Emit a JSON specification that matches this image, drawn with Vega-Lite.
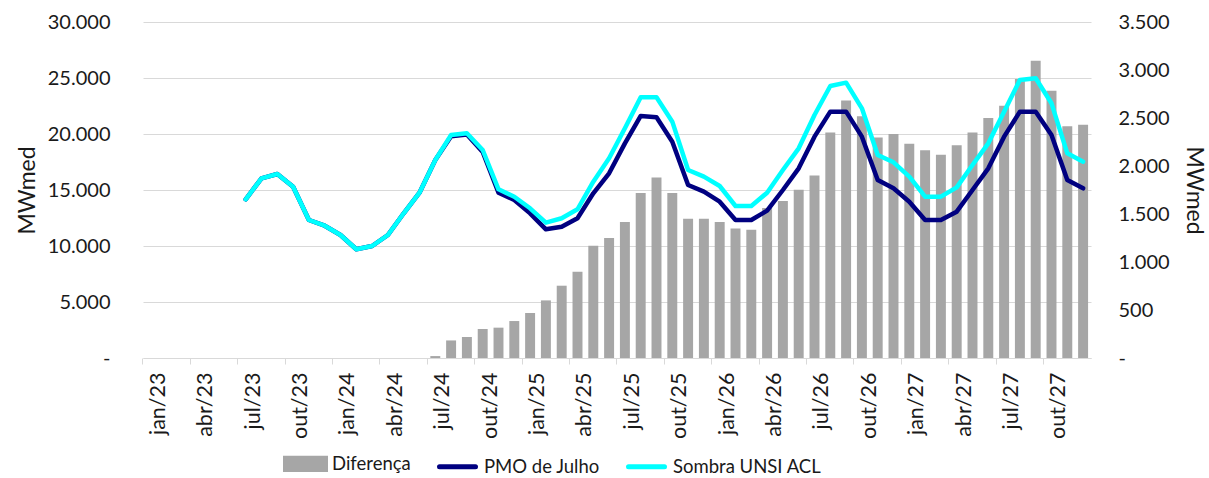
{
  "$schema": "https://vega.github.io/schema/vega-lite/v6.json",
  "width": 948,
  "height": 336,
  "autosize": {"type": "none"},
  "padding": {"left": 143, "top": 22, "right": 118, "bottom": 120},
  "background": "white",
  "config": {
    "view": {"stroke": null},
    "font": "Lato",
    "axis": {"labelFont": "Lato", "titleFont": "Lato", "labelColor": "#1a1a1a", "titleColor": "#1a1a1a", "labelFontSize": 20, "titleFontSize": 23, "titleFontWeight": "normal"}
  },
  "datasets": {
    "barras": [
      {"mes": "jul/24", "dif": 20}, {"mes": "ago/24", "dif": 183}, {"mes": "set/24", "dif": 219}, {"mes": "out/24", "dif": 302},
      {"mes": "nov/24", "dif": 316}, {"mes": "dez/24", "dif": 385}, {"mes": "jan/25", "dif": 469}, {"mes": "fev/25", "dif": 600},
      {"mes": "mar/25", "dif": 753}, {"mes": "abr/25", "dif": 899}, {"mes": "mai/25", "dif": 1170}, {"mes": "jun/25", "dif": 1250},
      {"mes": "jul/25", "dif": 1417}, {"mes": "ago/25", "dif": 1719}, {"mes": "set/25", "dif": 1881}, {"mes": "out/25", "dif": 1719},
      {"mes": "nov/25", "dif": 1451}, {"mes": "dez/25", "dif": 1451}, {"mes": "jan/26", "dif": 1417}, {"mes": "fev/26", "dif": 1350},
      {"mes": "mar/26", "dif": 1337}, {"mes": "abr/26", "dif": 1563}, {"mes": "mai/26", "dif": 1635}, {"mes": "jun/26", "dif": 1753},
      {"mes": "jul/26", "dif": 1902}, {"mes": "ago/26", "dif": 2350}, {"mes": "set/26", "dif": 2683}, {"mes": "out/26", "dif": 2517},
      {"mes": "nov/26", "dif": 2298}, {"mes": "dez/26", "dif": 2333}, {"mes": "jan/27", "dif": 2232}, {"mes": "fev/27", "dif": 2163},
      {"mes": "mar/27", "dif": 2118}, {"mes": "abr/27", "dif": 2215}, {"mes": "mai/27", "dif": 2350}, {"mes": "jun/27", "dif": 2500},
      {"mes": "jul/27", "dif": 2628}, {"mes": "ago/27", "dif": 2906}, {"mes": "set/27", "dif": 3097}, {"mes": "out/27", "dif": 2785},
      {"mes": "nov/27", "dif": 2413}, {"mes": "dez/27", "dif": 2430}
    ],
    "linhas": [
      {"mes": "jul/23", "serie": "PMO de Julho", "valor": 14170}, {"mes": "ago/23", "serie": "PMO de Julho", "valor": 16045},
      {"mes": "set/23", "serie": "PMO de Julho", "valor": 16429}, {"mes": "out/23", "serie": "PMO de Julho", "valor": 15296},
      {"mes": "nov/23", "serie": "PMO de Julho", "valor": 12322}, {"mes": "dez/23", "serie": "PMO de Julho", "valor": 11813},
      {"mes": "jan/24", "serie": "PMO de Julho", "valor": 10983}, {"mes": "fev/24", "serie": "PMO de Julho", "valor": 9706},
      {"mes": "mar/24", "serie": "PMO de Julho", "valor": 10000}, {"mes": "abr/24", "serie": "PMO de Julho", "valor": 10983},
      {"mes": "mai/24", "serie": "PMO de Julho", "valor": 12920}, {"mes": "jun/24", "serie": "PMO de Julho", "valor": 14760},
      {"mes": "jul/24", "serie": "PMO de Julho", "valor": 17679}, {"mes": "ago/24", "serie": "PMO de Julho", "valor": 19800},
      {"mes": "set/24", "serie": "PMO de Julho", "valor": 19950}, {"mes": "out/24", "serie": "PMO de Julho", "valor": 18400},
      {"mes": "nov/24", "serie": "PMO de Julho", "valor": 14760}, {"mes": "dez/24", "serie": "PMO de Julho", "valor": 14107},
      {"mes": "jan/25", "serie": "PMO de Julho", "valor": 12920}, {"mes": "fev/25", "serie": "PMO de Julho", "valor": 11491},
      {"mes": "mar/25", "serie": "PMO de Julho", "valor": 11724}, {"mes": "abr/25", "serie": "PMO de Julho", "valor": 12474},
      {"mes": "mai/25", "serie": "PMO de Julho", "valor": 14706}, {"mes": "jun/25", "serie": "PMO de Julho", "valor": 16491},
      {"mes": "jul/25", "serie": "PMO de Julho", "valor": 19167}, {"mes": "ago/25", "serie": "PMO de Julho", "valor": 21608},
      {"mes": "set/25", "serie": "PMO de Julho", "valor": 21489}, {"mes": "out/25", "serie": "PMO de Julho", "valor": 19316},
      {"mes": "nov/25", "serie": "PMO de Julho", "valor": 15447}, {"mes": "dez/25", "serie": "PMO de Julho", "valor": 14851},
      {"mes": "jan/26", "serie": "PMO de Julho", "valor": 13959}, {"mes": "fev/26", "serie": "PMO de Julho", "valor": 12322},
      {"mes": "mar/26", "serie": "PMO de Julho", "valor": 12322}, {"mes": "abr/26", "serie": "PMO de Julho", "valor": 13155},
      {"mes": "mai/26", "serie": "PMO de Julho", "valor": 15000}, {"mes": "jun/26", "serie": "PMO de Julho", "valor": 16935},
      {"mes": "jul/26", "serie": "PMO de Julho", "valor": 19762}, {"mes": "ago/26", "serie": "PMO de Julho", "valor": 21994},
      {"mes": "set/26", "serie": "PMO de Julho", "valor": 21994}, {"mes": "out/26", "serie": "PMO de Julho", "valor": 19762},
      {"mes": "nov/26", "serie": "PMO de Julho", "valor": 15894}, {"mes": "dez/26", "serie": "PMO de Julho", "valor": 15149},
      {"mes": "jan/27", "serie": "PMO de Julho", "valor": 13959}, {"mes": "fev/27", "serie": "PMO de Julho", "valor": 12322},
      {"mes": "mar/27", "serie": "PMO de Julho", "valor": 12322}, {"mes": "abr/27", "serie": "PMO de Julho", "valor": 13066},
      {"mes": "mai/27", "serie": "PMO de Julho", "valor": 15000}, {"mes": "jun/27", "serie": "PMO de Julho", "valor": 16935},
      {"mes": "jul/27", "serie": "PMO de Julho", "valor": 19762}, {"mes": "ago/27", "serie": "PMO de Julho", "valor": 21994},
      {"mes": "set/27", "serie": "PMO de Julho", "valor": 21994}, {"mes": "out/27", "serie": "PMO de Julho", "valor": 19911},
      {"mes": "nov/27", "serie": "PMO de Julho", "valor": 15894}, {"mes": "dez/27", "serie": "PMO de Julho", "valor": 15149},
      {"mes": "jul/23", "serie": "Sombra UNSI ACL", "valor": 14170}, {"mes": "ago/23", "serie": "Sombra UNSI ACL", "valor": 16045},
      {"mes": "set/23", "serie": "Sombra UNSI ACL", "valor": 16429}, {"mes": "out/23", "serie": "Sombra UNSI ACL", "valor": 15296},
      {"mes": "nov/23", "serie": "Sombra UNSI ACL", "valor": 12322}, {"mes": "dez/23", "serie": "Sombra UNSI ACL", "valor": 11813},
      {"mes": "jan/24", "serie": "Sombra UNSI ACL", "valor": 10983}, {"mes": "fev/24", "serie": "Sombra UNSI ACL", "valor": 9706},
      {"mes": "mar/24", "serie": "Sombra UNSI ACL", "valor": 10000}, {"mes": "abr/24", "serie": "Sombra UNSI ACL", "valor": 10983},
      {"mes": "mai/24", "serie": "Sombra UNSI ACL", "valor": 12920}, {"mes": "jun/24", "serie": "Sombra UNSI ACL", "valor": 14760},
      {"mes": "jul/24", "serie": "Sombra UNSI ACL", "valor": 17679}, {"mes": "ago/24", "serie": "Sombra UNSI ACL", "valor": 19911},
      {"mes": "set/24", "serie": "Sombra UNSI ACL", "valor": 20063}, {"mes": "out/24", "serie": "Sombra UNSI ACL", "valor": 18572},
      {"mes": "nov/24", "serie": "Sombra UNSI ACL", "valor": 15063}, {"mes": "dez/24", "serie": "Sombra UNSI ACL", "valor": 14402},
      {"mes": "jan/25", "serie": "Sombra UNSI ACL", "valor": 13366}, {"mes": "fev/25", "serie": "Sombra UNSI ACL", "valor": 12081},
      {"mes": "mar/25", "serie": "Sombra UNSI ACL", "valor": 12474}, {"mes": "abr/25", "serie": "Sombra UNSI ACL", "valor": 13277},
      {"mes": "mai/25", "serie": "Sombra UNSI ACL", "valor": 15742}, {"mes": "jun/25", "serie": "Sombra UNSI ACL", "valor": 17831},
      {"mes": "jul/25", "serie": "Sombra UNSI ACL", "valor": 20508}, {"mes": "ago/25", "serie": "Sombra UNSI ACL", "valor": 23276},
      {"mes": "set/25", "serie": "Sombra UNSI ACL", "valor": 23276}, {"mes": "out/25", "serie": "Sombra UNSI ACL", "valor": 21102},
      {"mes": "nov/25", "serie": "Sombra UNSI ACL", "valor": 16786}, {"mes": "dez/25", "serie": "Sombra UNSI ACL", "valor": 16191},
      {"mes": "jan/26", "serie": "Sombra UNSI ACL", "valor": 15358}, {"mes": "fev/26", "serie": "Sombra UNSI ACL", "valor": 13572},
      {"mes": "mar/26", "serie": "Sombra UNSI ACL", "valor": 13572}, {"mes": "abr/26", "serie": "Sombra UNSI ACL", "valor": 14762},
      {"mes": "mai/26", "serie": "Sombra UNSI ACL", "valor": 16786}, {"mes": "jun/26", "serie": "Sombra UNSI ACL", "valor": 18720},
      {"mes": "jul/26", "serie": "Sombra UNSI ACL", "valor": 21697}, {"mes": "ago/26", "serie": "Sombra UNSI ACL", "valor": 24287},
      {"mes": "set/26", "serie": "Sombra UNSI ACL", "valor": 24584}, {"mes": "out/26", "serie": "Sombra UNSI ACL", "valor": 22293},
      {"mes": "nov/26", "serie": "Sombra UNSI ACL", "valor": 18126}, {"mes": "dez/26", "serie": "Sombra UNSI ACL", "valor": 17471},
      {"mes": "jan/27", "serie": "Sombra UNSI ACL", "valor": 16191}, {"mes": "fev/27", "serie": "Sombra UNSI ACL", "valor": 14405},
      {"mes": "mar/27", "serie": "Sombra UNSI ACL", "valor": 14405}, {"mes": "abr/27", "serie": "Sombra UNSI ACL", "valor": 15238},
      {"mes": "mai/27", "serie": "Sombra UNSI ACL", "valor": 17233}, {"mes": "jun/27", "serie": "Sombra UNSI ACL", "valor": 19167},
      {"mes": "jul/27", "serie": "Sombra UNSI ACL", "valor": 21994}, {"mes": "ago/27", "serie": "Sombra UNSI ACL", "valor": 24823},
      {"mes": "set/27", "serie": "Sombra UNSI ACL", "valor": 24971}, {"mes": "out/27", "serie": "Sombra UNSI ACL", "valor": 22739},
      {"mes": "nov/27", "serie": "Sombra UNSI ACL", "valor": 18274}, {"mes": "dez/27", "serie": "Sombra UNSI ACL", "valor": 17530}
    ]
  },
  "encoding": {
    "x": {
      "field": "mes",
      "type": "nominal",
      "scale": {
        "domain": ["jan/23","fev/23","mar/23","abr/23","mai/23","jun/23","jul/23","ago/23","set/23","out/23","nov/23","dez/23",
                   "jan/24","fev/24","mar/24","abr/24","mai/24","jun/24","jul/24","ago/24","set/24","out/24","nov/24","dez/24",
                   "jan/25","fev/25","mar/25","abr/25","mai/25","jun/25","jul/25","ago/25","set/25","out/25","nov/25","dez/25",
                   "jan/26","fev/26","mar/26","abr/26","mai/26","jun/26","jul/26","ago/26","set/26","out/26","nov/26","dez/26",
                   "jan/27","fev/27","mar/27","abr/27","mai/27","jun/27","jul/27","ago/27","set/27","out/27","nov/27","dez/27"],
        "paddingInner": 0.37,
        "paddingOuter": 0.185
      },
      "axis": {
        "title": null,
        "values": ["jan/23","abr/23","jul/23","out/23","jan/24","abr/24","jul/24","out/24","jan/25","abr/25","jul/25","out/25","jan/26","abr/26","jul/26","out/26","jan/27","abr/27","jul/27","out/27"],
        "bandPosition": -0.294,
        "labelOffset": 7.9,
        "labelAngle": -90,
        "labelFontSize": 21.5,
        "tickSize": 6,
        "tickColor": "#d9d9d9",
        "domainColor": "#d9d9d9",
        "labelPadding": 8,
        "grid": false
      }
    }
  },
  "layer": [
    {
      "data": {"name": "barras"},
      "mark": {"type": "bar"},
      "encoding": {
        "y": {
          "field": "dif",
          "type": "quantitative",
          "scale": {"domain": [0, 3500]},
          "axis": {
            "orient": "right",
            "title": "MWmed",
            "values": [0, 500, 1000, 1500, 2000, 2500, 3000, 3500],
            "labelExpr": "datum.value === 0 ? '-' : replace(format(datum.value, ','), ',', '.')",
            "domain": false,
            "ticks": false,
            "grid": false,
            "labelPadding": 27,
            "titlePadding": 12
          }
        },
        "color": {
          "datum": "Diferença",
          "type": "nominal",
          "scale": {"domain": ["Diferença", "PMO de Julho", "Sombra UNSI ACL"], "range": ["#a6a6a6", "#000080", "#00ffff"]}
        }
      }
    },
    {
      "data": {"name": "linhas"},
      "mark": {"type": "line", "strokeWidth": 4.5, "strokeCap": "round", "strokeJoin": "round"},
      "encoding": {
        "y": {
          "field": "valor",
          "type": "quantitative",
          "scale": {"domain": [0, 30000]},
          "axis": {
            "orient": "left",
            "title": "MWmed",
            "values": [0, 5000, 10000, 15000, 20000, 25000, 30000],
            "labelExpr": "datum.value === 0 ? '-' : replace(format(datum.value, ','), ',', '.')",
            "domain": false,
            "ticks": false,
            "grid": true,
            "gridColor": "#d9d9d9",
            "gridWidth": 1.2,
            "labelPadding": 33,
            "titlePadding": 8
          }
        },
        "color": {
          "field": "serie",
          "type": "nominal",
          "scale": {"domain": ["Diferença", "PMO de Julho", "Sombra UNSI ACL"], "range": ["#a6a6a6", "#000080", "#00ffff"]},
          "legend": {
            "orient": "none",
            "legendX": 140,
            "legendY": 419,
            "direction": "horizontal",
            "title": null,
            "padding": 0,
            "labelFont": "Lato",
            "labelFontSize": 18.5,
            "labelColor": "#1a1a1a",
            "labelLimit": 0,
            "symbolSize": 1600,
            "labelOffset": 4,
            "columnPadding": 18,
            "symbolType": "stroke",
            "encode": {
              "symbols": {
                "update": {
                  "shape": {"signal": "datum.value === 'Diferença' ? 'M-1,-0.28H1V0.28H-1Z' : 'M-0.9,0H0.9'"},
                  "fill": {"signal": "datum.value === 'Diferença' ? '#a6a6a6' : 'transparent'"},
                  "stroke": {"signal": "datum.value === 'Diferença' ? 'transparent' : (datum.value === 'PMO de Julho' ? '#000080' : '#00ffff')"},
                  "strokeWidth": {"value": 5},
                  "strokeCap": {"value": "round"},
                  "opacity": {"value": 1}
                }
              }
            }
          }
        }
      }
    }
  ],
  "resolve": {"scale": {"y": "independent"}}
}
